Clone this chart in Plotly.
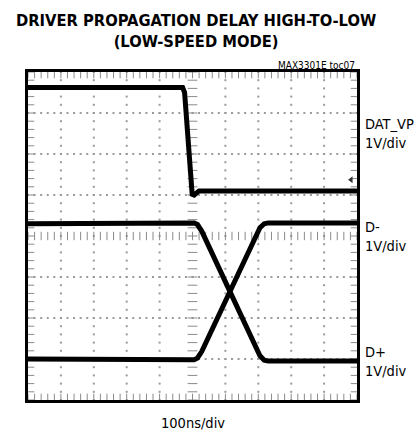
import numpy as np
import plotly.graph_objects as go

# Oscilloscope capture: 100 ns/div (10 div), 1 V/div (8 div, centre = 0)
# Times in ns from left edge of screen, levels in divisions from screen centre
t_dat = [0, 470, 476, 488, 495, 499, 505, 520, 1000]
v_dat = [3.62, 3.62, 3.50, 2.20, 1.35, 1.02, 1.00, 1.10, 1.10]

t_dm = [0, 505, 515, 528, 705, 718, 730, 1000]
v_dm = [0.30, 0.32, 0.28, 0.12, -2.92, -3.03, -3.05, -3.05]

t_dp = [0, 505, 515, 528, 705, 718, 730, 1000]
v_dp = [-3.00, -3.02, -2.98, -2.82, 0.20, 0.30, 0.32, 0.32]

# channel reference marker (right edge)
ref_t = [982]
ref_v = [1.37]

labels = [("DAT_VP<br>1V/div", 2.5), ("D-<br>1V/div", 0.0), ("D+<br>1V/div", -3.07)]

NX, NY = 10, 8
XDIV, YDIV = 100, 1.0
FONT = "Liberation Sans Narrow, DejaVu Sans Condensed, Arial Narrow, sans-serif"

fig = go.Figure()

# grid dots
gx, gy = [], []
minor_x = np.arange(0, NX * 5 + 1) * XDIV / 5
minor_y = np.arange(-NY / 2 * 5, NY / 2 * 5 + 1) * YDIV / 5
for k in range(1, NX):
    if k == NX // 2:
        continue
    for yy in minor_y:
        gx.append(k * XDIV); gy.append(yy)
for k in range(-NY // 2 + 1, NY // 2):
    if k == 0:
        continue
    for xx in minor_x:
        gx.append(xx); gy.append(k * YDIV)
fig.add_trace(go.Scatter(x=gx, y=gy, mode="markers", hoverinfo="skip",
                         marker=dict(symbol="square", size=2, color="#9a9a9a", line_width=0)))

# centre cross with minor ticks
fig.add_trace(go.Scatter(x=minor_x, y=[0] * len(minor_x), mode="markers", hoverinfo="skip",
                         marker=dict(symbol="line-ns", size=6, line=dict(width=1, color="#8a8a8a"))))
fig.add_trace(go.Scatter(x=[NX / 2 * XDIV] * len(minor_y), y=minor_y, mode="markers", hoverinfo="skip",
                         marker=dict(symbol="line-ew", size=7, line=dict(width=1, color="#8a8a8a"))))
# edge ticks
ex = list(minor_x) * 2
ey = [NY / 2 * YDIV] * len(minor_x) + [-NY / 2 * YDIV] * len(minor_x)
fig.add_trace(go.Scatter(x=ex, y=ey, mode="markers", hoverinfo="skip",
                         marker=dict(symbol="line-ns", size=9, line=dict(width=1, color="#8a8a8a"))))
ey2 = list(minor_y) * 2
ex2 = [0] * len(minor_y) + [NX * XDIV] * len(minor_y)
fig.add_trace(go.Scatter(x=ex2, y=ey2, mode="markers", hoverinfo="skip",
                         marker=dict(symbol="line-ew", size=9, line=dict(width=1, color="#8a8a8a"))))

# signals
for t, v in [(t_dat, v_dat), (t_dm, v_dm), (t_dp, v_dp)]:
    fig.add_trace(go.Scatter(x=t, y=v, mode="lines", hoverinfo="skip",
                             line=dict(color="black", width=5)))

fig.add_trace(go.Scatter(x=ref_t, y=ref_v, mode="markers", hoverinfo="skip",
                         marker=dict(symbol="triangle-left", size=6, color="#333333")))

for txt, yy in labels:
    fig.add_annotation(x=1.018, xref="paper", y=yy, yref="y", text=txt, showarrow=False,
                       xanchor="left", yanchor="middle", align="left",
                       font=dict(family=FONT, size=14.5, color="black"))

fig.add_annotation(x=0.51, xref="paper", y=(400 - 30.5) / 328, yref="paper",
                   text="<b>DRIVER PROPAGATION DELAY HIGH-TO-LOW<br>(LOW-SPEED MODE)</b>",
                   showarrow=False, xanchor="center", yanchor="middle", align="center",
                   font=dict(family=FONT, size=16.4, color="black"))
fig.add_annotation(x=1.0, xref="paper", y=(400 - 65) / 328, yref="paper",
                   text="MAX3301E toc07", showarrow=False, xanchor="right", yanchor="middle",
                   font=dict(family=FONT, size=10, color="black"))
fig.add_annotation(x=0.5, xref="paper", y=(400 - 423) / 328, yref="paper",
                   text="100ns/div", showarrow=False, xanchor="center", yanchor="middle",
                   font=dict(family=FONT, size=14.5, color="black"))

axis_common = dict(showgrid=False, zeroline=False, showticklabels=False, ticks="",
                   showline=True, mirror=True, linecolor="black", linewidth=3, fixedrange=True)
fig.update_xaxes(range=[0, NX * XDIV], **axis_common)
fig.update_yaxes(range=[-NY / 2 * YDIV, NY / 2 * YDIV], **axis_common)

fig.update_layout(width=419, height=432, margin=dict(l=28, r=62, t=72, b=32),
                  paper_bgcolor="white", plot_bgcolor="white", showlegend=False)

fig.write_html("out.html", config={"displayModeBar": False},
               post_script="document.body.style.margin='0';document.body.style.overflow='hidden';")
